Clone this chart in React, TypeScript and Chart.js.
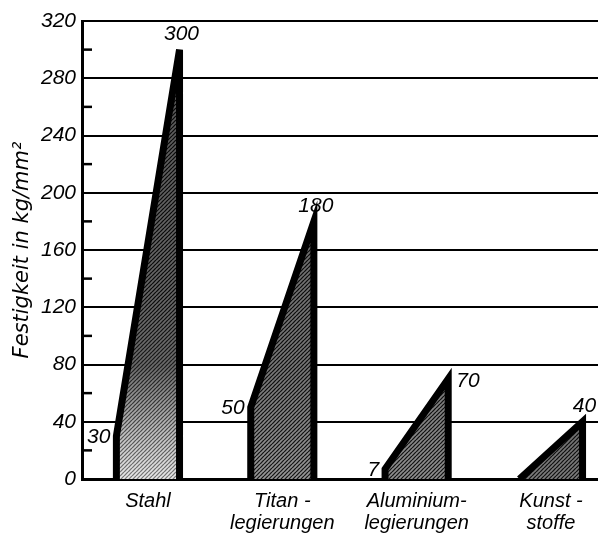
import React, { useEffect, useRef } from "react";
import { Chart, registerables } from "chart.js";

Chart.register(...registerables);

// ---- data ----
const categories = ["Stahl", "Titanlegierungen", "Aluminiumlegierungen", "Kunststoffe"];
const categoryLabelLines = [["Stahl"], ["Titan -", "legierungen"], ["Aluminium-", "legierungen"], ["Kunst -", "stoffe"]];
const minStrength = [30, 50, 7, 0];
const maxStrength = [300, 180, 70, 40];
const maxLabelPlacement = ["top", "top", "right", "top"];
const yMin = 0;
const yMax = 320;
const yMajorStep = 40;
const yMinorStep = 20;
const yTitle = "Festigkeit in kg/mm²";

const W = 598;
const H = 538;
const HALF = 0.235;
const LABEL_FONT = "italic 21px 'Liberation Sans', Arial, sans-serif";

type Stop = [number, string];

function makePattern(stops: Stop[], lineTop: number, lineBottom: number): CanvasPattern | string {
  const c = document.createElement("canvas");
  c.width = 4;
  c.height = H;
  const g = c.getContext("2d");
  if (!g) return "#999";
  const grad = g.createLinearGradient(0, 0, 0, H);
  stops.forEach(([o, col]) => grad.addColorStop(o, col));
  g.fillStyle = grad;
  g.fillRect(0, 0, 4, H);
  g.lineWidth = 1.2;
  for (let k = 0; k <= H + 8; k += 4) {
    const t = Math.min(1, Math.max(0, (k - 300) / (H - 300)));
    const a = lineTop + (lineBottom - lineTop) * t;
    g.strokeStyle = `rgba(0,0,0,${a})`;
    g.beginPath();
    g.moveTo(0, k);
    g.lineTo(4, k - 4);
    g.stroke();
  }
  const p = g.createPattern(c, "repeat");
  return p || "#999";
}

const minorTicksPlugin = {
  id: "minorTicks",
  afterDatasetsDraw(chart: any) {
    const y = chart.scales.y;
    const ctx = chart.ctx;
    const left = chart.chartArea.left;
    ctx.save();
    ctx.strokeStyle = "#000";
    ctx.lineWidth = 2.5;
    for (let v = yMin + yMinorStep; v < yMax; v += yMinorStep) {
      if (v % yMajorStep === 0) continue;
      const py = y.getPixelForValue(v);
      ctx.beginPath();
      ctx.moveTo(left, py);
      ctx.lineTo(left + 10, py);
      ctx.stroke();
    }
    ctx.restore();
  },
};

const valueLabelsPlugin = {
  id: "valueLabels",
  afterDatasetsDraw(chart: any) {
    const x = chart.scales.x;
    const y = chart.scales.y;
    const ctx = chart.ctx;
    ctx.save();
    ctx.fillStyle = "#000";
    ctx.font = LABEL_FONT;
    categories.forEach((_, i) => {
      const lx = x.getPixelForValue(i - HALF);
      const rx = x.getPixelForValue(i + HALF);
      if (minStrength[i] > 0) {
        ctx.textAlign = "right";
        ctx.textBaseline = "middle";
        ctx.fillText(String(minStrength[i]), lx - 6, y.getPixelForValue(minStrength[i]) + 1);
      }
      const my = y.getPixelForValue(maxStrength[i]);
      if (maxLabelPlacement[i] === "right") {
        ctx.textAlign = "left";
        ctx.textBaseline = "middle";
        ctx.fillText(String(maxStrength[i]), rx + 8, my + 2);
      } else {
        ctx.textAlign = "center";
        ctx.textBaseline = "bottom";
        ctx.fillText(String(maxStrength[i]), rx + 2, my - 5);
      }
    });
    ctx.restore();
  },
};

export default function App() {
  const ref = useRef<HTMLCanvasElement | null>(null);

  useEffect(() => {
    if (!ref.current) return;
    const fills = [
      makePattern([[0, "#555"], [0.68, "#6a6a6a"], [0.8, "#bdbdbd"], [0.9, "#eeeeee"], [1, "#f4f4f4"]], 0.9, 0.35),
      makePattern([[0, "#5e5e5e"], [0.7, "#777"], [1, "#a8a8a8"]], 0.9, 0.85),
      makePattern([[0, "#6a6a6a"], [0.7, "#7a7a7a"], [1, "#9a9a9a"]], 0.9, 0.85),
      makePattern([[0, "#5a5a5a"], [0.75, "#6a6a6a"], [1, "#8a8a8a"]], 0.9, 0.85),
    ];
    const datasets = categories.map((name, i) => ({
      label: name,
      data: [
        { x: i - HALF, y: 0 },
        { x: i - HALF, y: minStrength[i] },
        { x: i + HALF, y: maxStrength[i] },
        { x: i + HALF, y: 0 },
      ],
      borderColor: "#000",
      borderWidth: 7,
      borderJoinStyle: "miter" as const,
      borderCapStyle: "butt" as const,
      backgroundColor: fills[i],
      fill: "origin",
      pointRadius: 0,
      tension: 0,
    }));

    const chart = new Chart(ref.current, {
      type: "line",
      data: { datasets },
      options: {
        animation: false,
        responsive: false,
        layout: { padding: { top: 21, right: 0, left: 0, bottom: 0 } },
        plugins: { legend: { display: false }, tooltip: { enabled: false } },
        scales: {
          x: {
            type: "linear",
            min: -0.491,
            max: 3.35,
            afterBuildTicks: (scale: any) => {
              scale.ticks = categories.map((_, i) => ({ value: i }));
            },
            afterFit: (scale: any) => {
              scale.height = 59;
            },
            grid: { display: false, drawTicks: false },
            border: { display: true, color: "#000", width: 3 },
            ticks: {
              autoSkip: false,
              maxRotation: 0,
              padding: 11,
              color: "#000",
              font: { family: "'Liberation Sans', Arial, sans-serif", style: "italic", size: 20, lineHeight: 1.1 },
              callback: (_v: any, index: number) => categoryLabelLines[index],
            },
          },
          y: {
            type: "linear",
            min: yMin,
            max: yMax,
            afterFit: (scale: any) => {
              scale.width = 82;
            },
            grid: {
              drawTicks: false,
              lineWidth: 2,
              color: (c: any) => (c.tick && c.tick.value % yMajorStep === 0 ? "#000" : "rgba(0,0,0,0)"),
            },
            border: { display: true, color: "#000", width: 3 },
            ticks: {
              stepSize: yMinorStep,
              padding: 6,
              color: "#000",
              font: { family: "'Liberation Sans', Arial, sans-serif", style: "italic", size: 21 },
              callback: (v: any) => (Number(v) % yMajorStep === 0 ? String(v) : ""),
            },
            title: {
              display: true,
              text: yTitle,
              color: "#000",
              padding: { top: 10, bottom: 0 },
              font: { family: "'DejaVu Sans', sans-serif", style: "italic", size: 21 },
            },
          },
        },
      },
      plugins: [minorTicksPlugin, valueLabelsPlugin],
    } as any);
    return () => chart.destroy();
  }, []);

  return (
    <div style={{ position: "absolute", left: 0, top: 0, width: W, height: H, background: "#fff" }}>
      <canvas ref={ref} width={W} height={H} style={{ width: W, height: H, display: "block" }} />
    </div>
  );
}
